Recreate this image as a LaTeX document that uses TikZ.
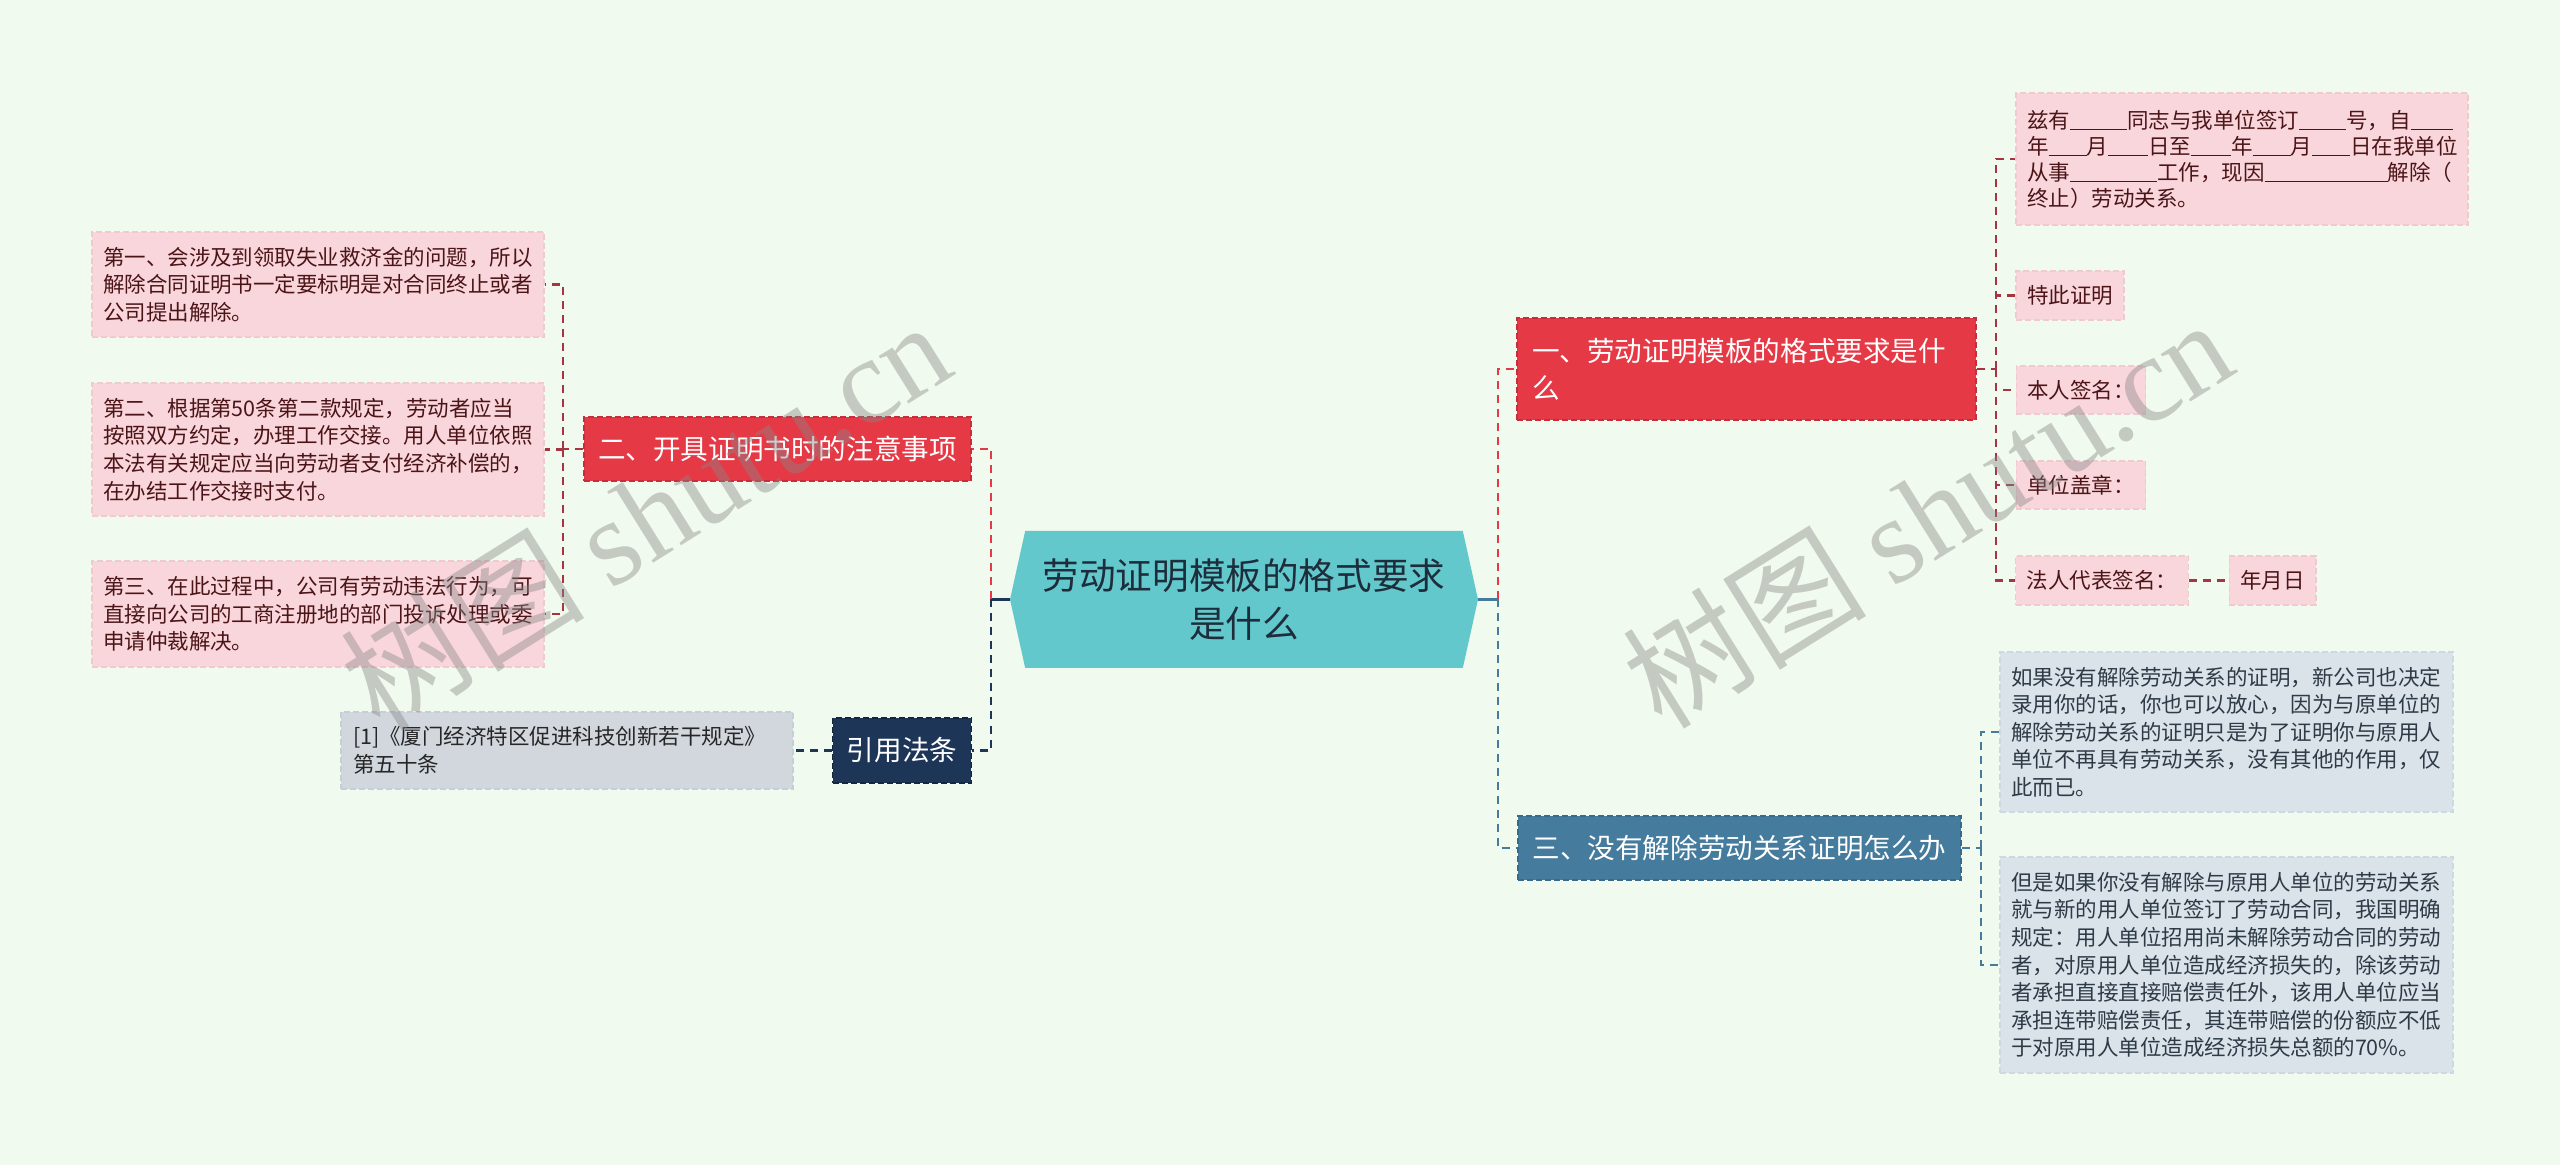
\documentclass[tikz,border=0pt]{standalone}
\usepackage{fontspec}
\setmainfont{Noto Sans CJK SC}
\newfontfamily\wmlatin{Liberation Serif}
\usepackage{tikz}
\usetikzlibrary{positioning,shapes.symbols}

\definecolor{bgmint}{HTML}{F1FAEE}
\definecolor{rootteal}{HTML}{63C8CC}
\definecolor{roottext}{HTML}{1E2D3B}
\definecolor{hotred}{HTML}{E63946}
\definecolor{hotredline}{HTML}{C52E3C}
\definecolor{steelblue}{HTML}{457B9D}
\definecolor{steeledge}{HTML}{3A6A8A}
\definecolor{navy}{HTML}{1D3557}
\definecolor{navyedge}{HTML}{142640}
\definecolor{pinkleaf}{HTML}{F9D6DB}
\definecolor{pinkedge}{HTML}{F1CAD0}
\definecolor{maroon}{HTML}{4B1518}
\definecolor{leafred}{HTML}{A53541}
\definecolor{blueleaf}{HTML}{DAE3EA}
\definecolor{blueedge}{HTML}{CDD8E1}
\definecolor{slatetext}{HTML}{2E3A46}
\definecolor{citegray}{HTML}{D2D7DE}
\definecolor{citeedge}{HTML}{C8CED6}

\newcommand{\fillin}[1]{\rule[-1pt]{#1}{0.6pt}}

\begin{document}
\begin{tikzpicture}[
  x=0.5pt, y=-0.5pt,
  every node/.style={inner ysep=0pt},
  rootshape/.style={signal, signal to=west and east, signal pointer angle=155, fill=rootteal, text=roottext,
    font=\fontsize{18.3pt}{24pt}\selectfont, align=center, minimum width=234pt, minimum height=68.5pt},
  topicbox/.style={draw, dash pattern=on 3pt off 1.5pt, line width=0.6pt, text=white,
    font=\fontsize{13.8pt}{18.3pt}\selectfont, minimum height=32pt, inner xsep=7pt},
  pinkbox/.style={draw=pinkedge, fill=pinkleaf, dash pattern=on 3pt off 1.5pt, line width=0.6pt, text=maroon,
    font=\fontsize{10.75pt}{13.8pt}\selectfont, inner xsep=5.5pt, align=left},
  bluebox/.style={draw=blueedge, fill=blueleaf, dash pattern=on 3pt off 1.5pt, line width=0.6pt, text=slatetext,
    font=\fontsize{10.75pt}{13.8pt}\selectfont, inner xsep=5.5pt, align=left},
  citebox/.style={draw=citeedge, fill=citegray, dash pattern=on 3pt off 1.5pt, line width=0.6pt, text=black!85,
    font=\fontsize{10.75pt}{13.8pt}\selectfont, inner xsep=6pt, align=left},
  trunk/.style={line width=1.5pt},
  branch/.style={line width=1.4pt, dash pattern=on 4pt off 3pt},
  leaflink/.style={line width=1.1pt, dash pattern=on 4pt off 3pt},
  watermark/.style={text=black!47, opacity=0.42, font=\fontsize{61pt}{61pt}\selectfont}
]

\fill[bgmint] (0,0) rectangle (2560,1165);

\node[rootshape] (root) at (1244,599.5) {劳动证明模板的格式要求\\是什么};

\node[topicbox, draw=hotredline, fill=hotred, minimum width=193.5pt] (two) at (777.5,449) {二、开具证明书时的注意事项};
\node[topicbox, draw=navyedge, fill=navy, minimum width=69pt, minimum height=32.5pt] (law) at (902,750.5) {引用法条};
\node[topicbox, draw=hotredline, fill=hotred, minimum width=229.5pt, minimum height=51pt, align=left, text width=214.5pt] (one) at (1746.5,369) {一、劳动证明模板的格式要求是什\\么};
\node[topicbox, draw=steeledge, fill=steelblue, minimum width=221.5pt] (three) at (1739.5,848) {三、没有解除劳动关系证明怎么办};

\node[pinkbox, text width=215pt, minimum height=52.5pt] (first) at (318,284.5) {第一、会涉及到领取失业救济金的问题，所以\\解除合同证明书一定要标明是对合同终止或者\\公司提出解除。};
\node[pinkbox, text width=215pt, minimum height=66.5pt] (second) at (318,449.5) {第二、根据第50条第二款规定，劳动者应当\\按照双方约定，办理工作交接。用人单位依照\\本法有关规定应当向劳动者支付经济补偿的，\\在办结工作交接时支付。};
\node[pinkbox, text width=215pt, minimum height=53pt] (third) at (318,614) {第三、在此过程中，公司有劳动违法行为，可\\直接向公司的工商注册地的部门投诉处理或委\\申请仲裁解决。};

\node[citebox, text width=214pt, minimum height=38.5pt] (cite) at (567,750.5) {[1]《厦门经济特区促进科技创新若干规定》\\第五十条};

\node[pinkbox, text width=215pt, minimum height=66pt, font=\fontsize{10.75pt}{13pt}\selectfont] (notice) at (2242,159) {兹有\fillin{28.5pt}同志与我单位签订\fillin{23.5pt}号，自\fillin{21pt}\\年\fillin{19pt}月\fillin{20pt}日至\fillin{20pt}年\fillin{19pt}月\fillin{19pt}日在我单位\\从事\fillin{43.5pt}工作，现因\fillin{61.5pt}解除（\\终止）劳动关系。};
\node[pinkbox, minimum height=24.5pt] (certify) at (2070,295.5) {特此证明};
\node[pinkbox, minimum height=24pt] (selfsign) at (2081,390) {本人签名：};
\node[pinkbox, minimum height=24pt] (seal) at (2081,485) {单位盖章：};
\node[pinkbox, minimum height=24.5pt] (legalsign) at (2102,580.5) {法人代表签名：};
\node[pinkbox, minimum height=24.5pt, right=20pt of legalsign] (date) {年月日};

\node[bluebox, text width=215.5pt, minimum height=80pt] (noproof) at (2226.5,732) {如果没有解除劳动关系的证明，新公司也决定\\录用你的话，你也可以放心，因为与原单位的\\解除劳动关系的证明只是为了证明你与原用人\\单位不再具有劳动关系，没有其他的作用，仅\\此而已。};
\node[bluebox, text width=215.5pt, minimum height=108pt] (liability) at (2226.5,965) {但是如果你没有解除与原用人单位的劳动关系\\就与新的用人单位签订了劳动合同，我国明确\\规定：用人单位招用尚未解除劳动合同的劳动\\者，对原用人单位造成经济损失的，除该劳动\\者承担直接直接赔偿责任外，该用人单位应当\\承担连带赔偿责任，其连带赔偿的份额应不低\\于对原用人单位造成经济损失总额的70\%。};

\coordinate (lhub) at (991,599.5);
\coordinate (rhub) at (1498,599.5);
\coordinate (twohub) at (563,449);
\coordinate (onehub) at (1996,369);
\coordinate (threehub) at (1981,848);

\draw[trunk, navy] (root.west) -- (lhub);
\draw[branch, hotred] (lhub) |- (two.east);
\draw[branch, navy] (lhub) |- (law.east);
\draw[trunk, steelblue] (root.east) -- (rhub);
\draw[branch, hotred] (rhub) |- (one.west);
\draw[branch, steelblue] (rhub) |- (three.west);

\draw[leaflink, leafred] (two.west) -- (twohub);
\draw[leaflink, leafred] (twohub) |- (first.east);
\draw[leaflink, leafred] (twohub) |- (second.east);
\draw[leaflink, leafred] (twohub) |- (third.east);

\draw[leaflink, navy] (law.west) -- (cite.east);

\draw[leaflink, leafred] (one.east) -- (onehub);
\draw[leaflink, leafred] (onehub) |- (notice.west);
\draw[leaflink, leafred] (onehub) |- (certify.west);
\draw[leaflink, leafred] (onehub) |- (selfsign.west);
\draw[leaflink, leafred] (onehub) |- (seal.west);
\draw[leaflink, leafred] (onehub) |- (legalsign.west);
\draw[leaflink, leafred] (legalsign.east) -- (date.west);

\draw[leaflink, steelblue] (three.east) -- (threehub);
\draw[leaflink, steelblue] (threehub) |- (noproof.west);
\draw[leaflink, steelblue] (threehub) |- (liability.west);

\node[watermark, rotate=32] (markleft) at (645,514) {树图 {\wmlatin shutu.cn}};
\node[watermark, rotate=32] (markright) at (1927,512) {树图 {\wmlatin shutu.cn}};

\end{tikzpicture}
\end{document}
